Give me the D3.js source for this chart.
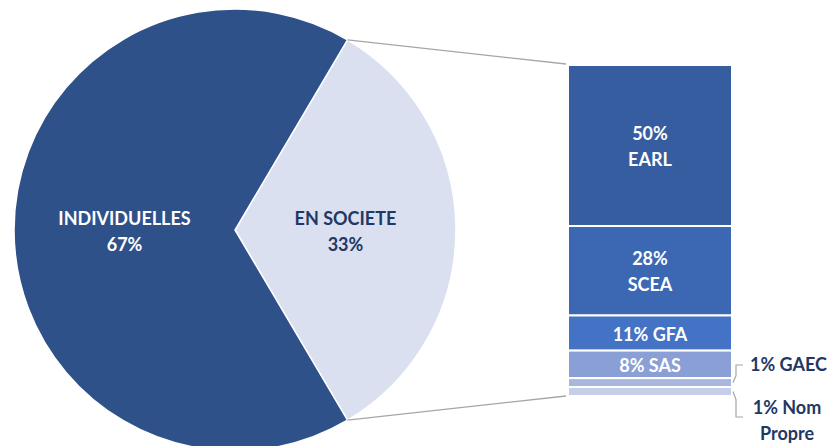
<!DOCTYPE html>
<html>
<head>
<meta charset="utf-8">
<script src="https://cdn.jsdelivr.net/npm/d3@7"></script>
<style>
  body { margin: 0; background: #ffffff; }
  svg { display: block; font-family: Lato, "Open Sans", sans-serif; font-weight: 700; }
</style>
</head>
<body>
<div id="chart"></div>
<script>
// pie data
const pieNames = ['EN SOCIETE', 'INDIVIDUELLES']
const pieValues = [33, 67]
const pieColors = ['#dae0ef', '#2f5189']
const pieTextColors = ['#1f3864', '#ffffff']

// bar (detail of "en societe")
const barNames = ['EARL', 'SCEA', 'GFA', 'SAS', 'GAEC', 'Nom Propre']
const barPct = [50, 28, 11, 8, 1, 1]
const barHeights = [48.6, 27, 10.6, 8.3, 2.7, 2.7] // share as drawn
const barColors = ['#355da0', '#3b67b3', '#4472c4', '#8a9fd5', '#a9b6de', '#c6cfea']

const W = 829, H = 446
const CX = 235, CY = 230, R = 221
const BAR = { LEFT: 568, RIGHT: 732, TOP: 65, BOTTOM: 396 }
const FS = 18

const svg = d3.select('#chart').append('svg')
  .attr('width', W)
  .attr('height', H)

// ─── PIE ─────────────────────────────────────────
const share = pieValues[0] / d3.sum(pieValues)
const start = Math.PI / 2 - share * Math.PI
const pie = d3.pie().sort(null)
  .startAngle(start)
  .endAngle(start + 2 * Math.PI)
const arcs = pie(pieValues)
const arc = d3.arc().innerRadius(0).outerRadius(R)

const g = svg.append('g').attr('transform', `translate(${CX}, ${CY})`)
g.selectAll('path').data(arcs).enter().append('path')
  .attr('d', arc)
  .attr('fill', (d, i) => pieColors[i])
  .attr('stroke', '#ffffff')
  .attr('stroke-width', 1.5)

g.selectAll('text.pl').data(arcs).enter().append('text')
  .attr('class', 'pl')
  .attr('text-anchor', 'middle')
  .attr('font-size', FS)
  .attr('fill', (d, i) => pieTextColors[i])
  .each(function(d, i) {
    const [x, y] = arc.centroid(d)
    const t = d3.select(this)
    t.append('tspan').attr('x', x).attr('y', y - 5).text(pieNames[i])
    t.append('tspan').attr('x', x).attr('y', y + 21).text(pieValues[i] + '%')
  })

// ─── BAR ─────────────────────────────────────────
const y = d3.scaleLinear()
  .domain([0, d3.sum(barHeights)])
  .range([BAR.TOP, BAR.BOTTOM])
const cum = d3.cumsum(barHeights)
const segs = barHeights.map((v, i) => ({ y0: cum[i] - v, y1: cum[i], i }))

// connector lines from the pie slice to the bar
const a0 = arcs[0].startAngle, a1 = arcs[0].endAngle
svg.append('line')
  .attr('x1', CX + R * Math.sin(a0)).attr('y1', CY - R * Math.cos(a0))
  .attr('x2', BAR.LEFT - 2).attr('y2', y(0) - 1)
  .attr('stroke', '#a6a6a6').attr('stroke-width', 1.3)
svg.append('line')
  .attr('x1', CX + R * Math.sin(a1)).attr('y1', CY - R * Math.cos(a1))
  .attr('x2', BAR.LEFT - 2).attr('y2', y(d3.sum(barHeights)))
  .attr('stroke', '#a6a6a6').attr('stroke-width', 1.3)

svg.selectAll('rect.seg').data(segs).enter().append('rect')
  .attr('class', 'seg')
  .attr('x', BAR.LEFT)
  .attr('y', d => y(d.y0))
  .attr('width', BAR.RIGHT - BAR.LEFT)
  .attr('height', d => y(d.y1) - y(d.y0))
  .attr('fill', d => barColors[d.i])
  .attr('stroke', '#ffffff')
  .attr('stroke-width', 2)

const midX = (BAR.LEFT + BAR.RIGHT) / 2
segs.forEach(d => {
  const c = (y(d.y0) + y(d.y1)) / 2
  if (d.i < 2) {
    const t = svg.append('text').attr('text-anchor', 'middle')
      .attr('font-size', FS).attr('fill', '#ffffff')
    t.append('tspan').attr('x', midX).attr('y', c - 6).text(barPct[d.i] + '%')
    t.append('tspan').attr('x', midX).attr('y', c + 20).text(barNames[d.i])
  } else if (d.i < 4) {
    svg.append('text').attr('text-anchor', 'middle')
      .attr('font-size', FS).attr('fill', '#ffffff')
      .attr('x', midX).attr('y', c + 8)
      .text(barPct[d.i] + '% ' + barNames[d.i])
  }
})

// outside labels with leader lines
const leader = d3.line()
const gaec = segs[4], nom = segs[5]
const gy = (y(gaec.y0) + y(gaec.y1)) / 2
const ny = (y(nom.y0) + y(nom.y1)) / 2
svg.append('path')
  .attr('d', leader([[BAR.RIGHT + 1, gy], [BAR.RIGHT + 4, gy - 7], [BAR.RIGHT + 4, 365], [BAR.RIGHT + 11, 365]]))
  .attr('fill', 'none').attr('stroke', '#a6a6a6').attr('stroke-width', 1.2)
svg.append('path')
  .attr('d', leader([[BAR.RIGHT + 1, ny], [BAR.RIGHT + 4, ny + 8], [BAR.RIGHT + 4, 417], [BAR.RIGHT + 11, 417]]))
  .attr('fill', 'none').attr('stroke', '#a6a6a6').attr('stroke-width', 1.2)

svg.append('text')
  .attr('x', 750).attr('y', 371)
  .attr('font-size', FS).attr('fill', '#1f3864')
  .text(barPct[4] + '% ' + barNames[4])
const nt = svg.append('text').attr('text-anchor', 'middle')
  .attr('font-size', FS).attr('fill', '#1f3864')
nt.append('tspan').attr('x', 787).attr('y', 414).text(barPct[5] + '% ' + barNames[5].split(' ')[0])
nt.append('tspan').attr('x', 787).attr('y', 440).text(barNames[5].split(' ')[1])
</script>
</body>
</html>
